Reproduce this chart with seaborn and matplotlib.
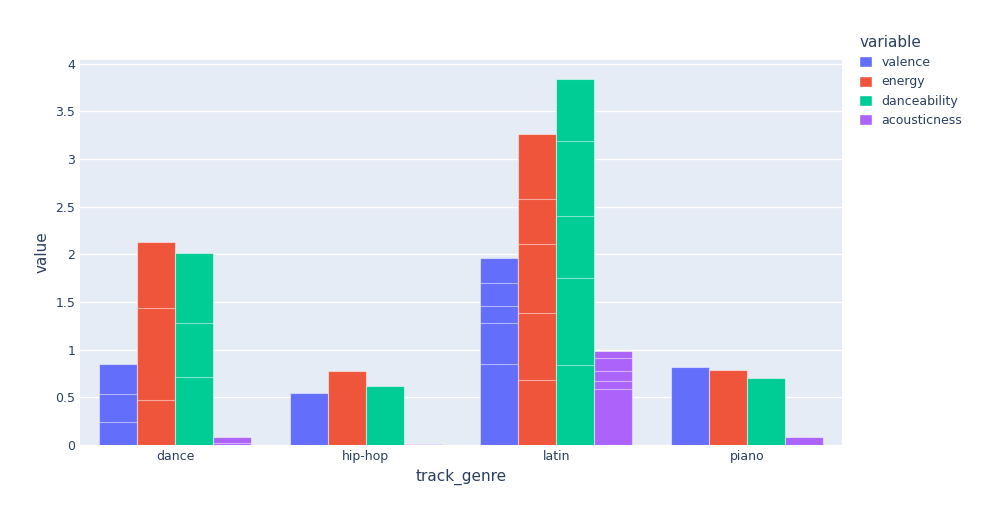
import matplotlib
matplotlib.use("Agg")
import matplotlib.pyplot as plt
import seaborn as sns
import pandas as pd
import numpy as np
from matplotlib.patches import Patch
from matplotlib.ticker import FuncFormatter

genres = ["dance", "hip-hop", "latin", "piano"]
variables = ["valence", "energy", "danceability", "acousticness"]
colors = ["#636EFA", "#EF553B", "#00CC96", "#AB63FA"]
# segment values (stacked records) per genre and variable
segments = {
    "dance": {"valence": [0.24, 0.30, 0.31], "energy": [0.47, 0.97, 0.69],
              "danceability": [0.71, 0.57, 0.73], "acousticness": [0.02, 0.06]},
    "hip-hop": {"valence": [0.55], "energy": [0.78], "danceability": [0.62], "acousticness": [0.01]},
    "latin": {"valence": [0.85, 0.43, 0.18, 0.24, 0.26], "energy": [0.68, 0.71, 0.72, 0.47, 0.68],
              "danceability": [0.84, 0.91, 0.65, 0.79, 0.65], "acousticness": [0.585, 0.085, 0.11, 0.13, 0.08]},
    "piano": {"valence": [0.82], "energy": [0.79], "danceability": [0.70], "acousticness": [0.08]},
}

rows = []
for g in genres:
    for v in variables:
        cs = np.cumsum(segments[g][v])
        for k in range(5):
            rows.append({"track_genre": g, "variable": v, "level": k,
                         "value": cs[min(k, len(cs) - 1)] if k < len(cs) else np.nan})
df = pd.DataFrame(rows)

sns.set_theme(style="darkgrid")
fig = plt.figure(figsize=(9.84, 5.25), dpi=100)
ax = fig.add_axes([80 / 984, 80 / 525, 762 / 984, 385 / 525])
ax.set_facecolor("#E5ECF6")
for k in range(4, -1, -1):
    d = df[df.level == k].copy()
    d["value"] = d["value"].fillna(0)
    sns.barplot(data=d, x="track_genre", y="value", hue="variable", order=genres,
                hue_order=variables, palette=colors, width=0.8, saturation=1,
                edgecolor=(1, 1, 1, 0.5), linewidth=0.8, ax=ax, legend=False, errorbar=None)
ax.set_xlim(-0.5, 3.5)
ax.set_ylim(0, 4.04)
ax.set_yticks([0, 0.5, 1, 1.5, 2, 2.5, 3, 3.5, 4])
ax.yaxis.set_major_formatter(FuncFormatter(lambda v, p: f"{v:g}"))
ax.grid(axis="y", color="white", linewidth=1)
ax.grid(axis="x", visible=False)
for s in ax.spines.values():
    s.set_visible(False)
ax.tick_params(colors="#2a3f5f", labelsize=9, length=0)
ax.set_xlabel("track_genre", color="#2a3f5f", fontsize=11)
ax.set_ylabel("value", color="#2a3f5f", fontsize=11)
handles = [Patch(facecolor=c, edgecolor="white", label=v) for v, c in zip(variables, colors)]
leg = fig.legend(handles=handles, title="variable", loc="upper left", bbox_to_anchor=(848 / 984, 0.955),
                 frameon=False, fontsize=9, title_fontsize=11, handlelength=1, handleheight=1, alignment="left")
for t in leg.get_texts():
    t.set_color("#2a3f5f")
leg.get_title().set_color("#2a3f5f")
fig.savefig("out.png", dpi=100, facecolor="white")
